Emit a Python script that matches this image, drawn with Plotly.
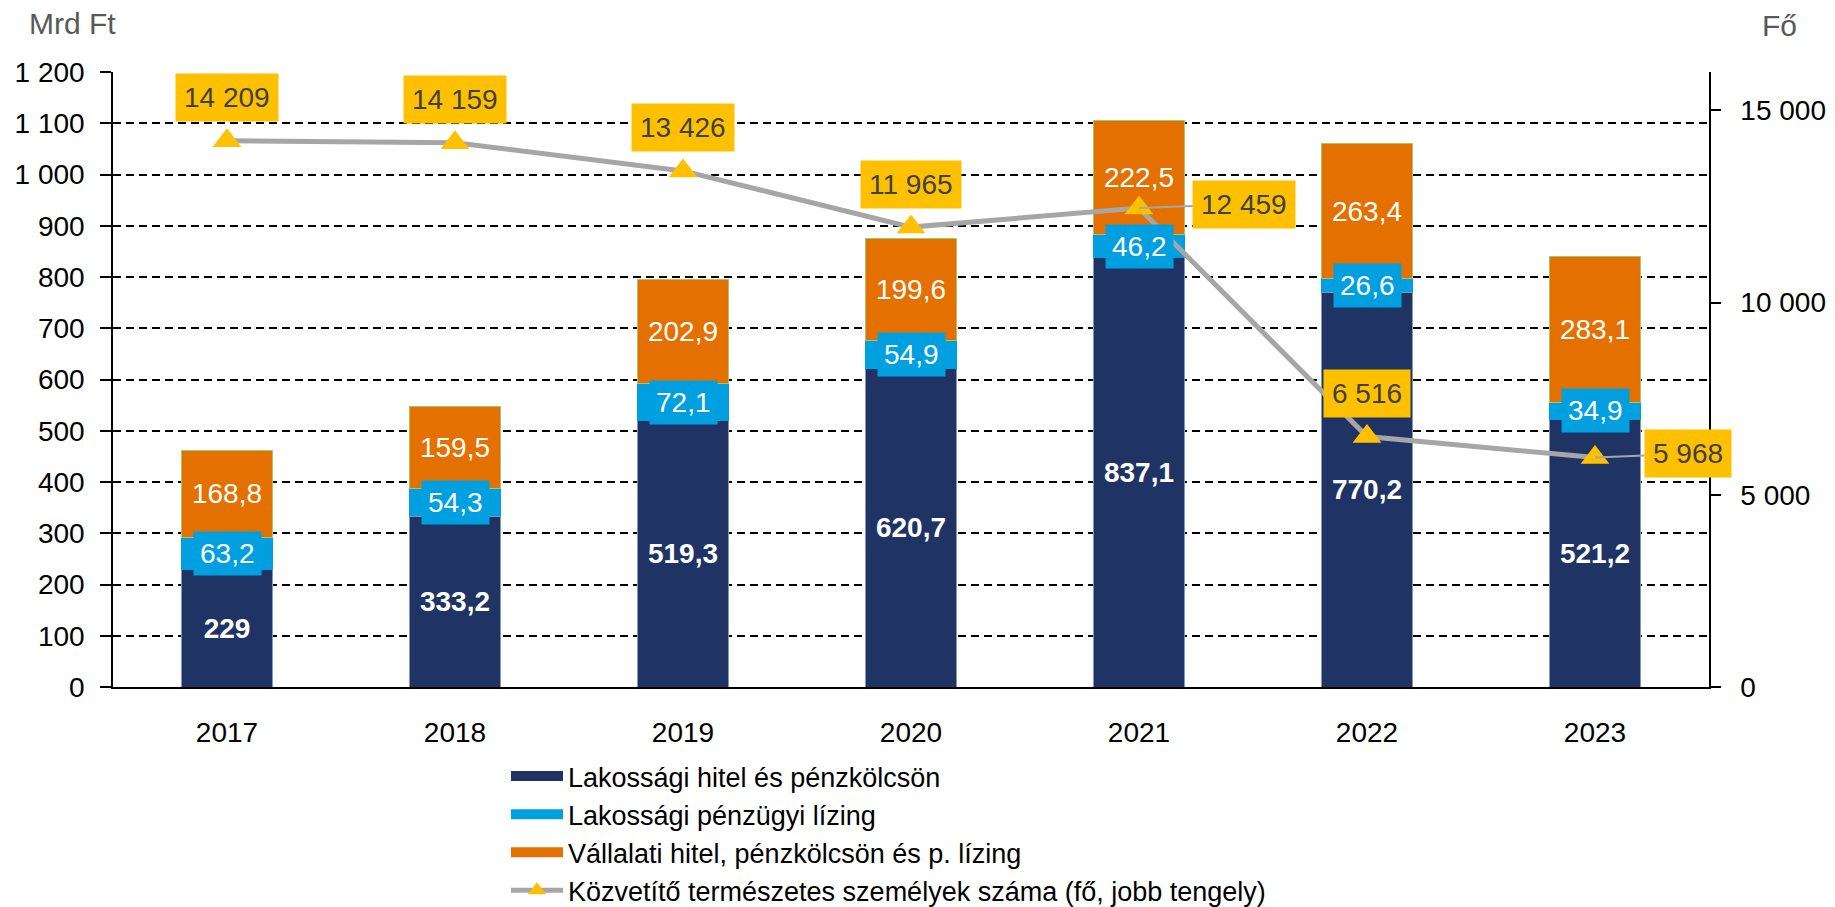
import plotly.graph_objects as go
from plotly.subplots import make_subplots

# data
years = ["2017", "2018", "2019", "2020", "2021", "2022", "2023"]
lak_hitel = [229, 333.2, 519.3, 620.7, 837.1, 770.2, 521.2]
lak_lizing = [63.2, 54.3, 72.1, 54.9, 46.2, 26.6, 34.9]
vall_hitel = [168.8, 159.5, 202.9, 199.6, 222.5, 263.4, 283.1]
kozvetitok = [14209, 14159, 13426, 11965, 12459, 6516, 5968]

left_ticks = list(range(0, 1300, 100))
right_ticks = [0, 5000, 10000, 15000]

names = [
    "Lakossági hitel és pénzkölcsön",
    "Lakossági pénzügyi lízing",
    "Vállalati hitel, pénzkölcsön és p. lízing",
    "Közvetítő természetes személyek száma (fő, jobb tengely)",
]

# the page body has an 8px margin, so the figure is 8px smaller than the window
OFF = 8
W, H = 1835 - OFF, 907 - OFF
ML, MR, MT, MB = 113 - OFF, 126, 72 - OFF, 220

FONT = "Liberation Sans, Arial, sans-serif"
NAVY = "#1F3464"
BLUE = "#009FE0"
ORANGE = "#E47000"
GOLD = "#FFC000"
GREY = "#A6A6A6"


def hu_dec(v):
    return f"{v:g}".replace(".", ",")


def hu_thousands(v):
    return f"{v:,}".replace(",", " ")


# screen pixel -> paper coordinates
def paper_x(px):
    return (px - OFF - ML) / (W - ML - MR)


def paper_y(py):
    return (H - MB - (py - OFF)) / (H - MT - MB)


fig = make_subplots(specs=[[{"secondary_y": True}]])

fig.add_trace(go.Bar(
    x=years, y=lak_hitel, name=names[0], showlegend=False,
    marker=dict(color=NAVY, line=dict(color="#8497B0", width=1)),
    text=[hu_dec(v) for v in lak_hitel], textposition="inside",
    insidetextanchor="middle", textangle=0,
    textfont=dict(color="white", size=28, family=FONT, weight="bold"),
), secondary_y=False)

fig.add_trace(go.Bar(
    x=years, y=lak_lizing, name=names[1], showlegend=False,
    marker=dict(color=BLUE, line=dict(width=0)),
), secondary_y=False)

fig.add_trace(go.Bar(
    x=years, y=vall_hitel, name=names[2], showlegend=False,
    marker=dict(color=ORANGE, line=dict(color="#9BCB6B", width=1)),
    text=[hu_dec(v) for v in vall_hitel], textposition="inside",
    insidetextanchor="middle", textangle=0,
    textfont=dict(color="white", size=28, family=FONT),
), secondary_y=False)

fig.add_trace(go.Scatter(
    x=years, y=kozvetitok, mode="lines+markers", name=names[3],
    showlegend=False,
    line=dict(color=GREY, width=5),
    marker=dict(symbol="triangle-up", size=25, color=GOLD),
), secondary_y=True)

# legend-only entries so the swatches are wide bars like in the original
for nm, col in zip(names[:3], [NAVY, BLUE, ORANGE]):
    fig.add_trace(go.Scatter(
        x=[None], y=[None], mode="lines", name=nm,
        line=dict(color=col, width=18),
    ))
fig.add_trace(go.Scatter(
    x=[None], y=[None], mode="lines+markers", name=names[3],
    line=dict(color=GREY, width=5),
    marker=dict(symbol="triangle-up", size=18, color=GOLD),
))

annotations = []

# blue segment labels with a filled box (category axis -> use index)
for i, (a, b) in enumerate(zip(lak_hitel, lak_lizing)):
    annotations.append(dict(
        x=i, y=a + b / 2, xref="x", yref="y", text=hu_dec(b),
        showarrow=False, bgcolor=BLUE, borderpad=6,
        font=dict(color="white", size=28, family=FONT),
    ))

# line labels: above the marker, or to the right with a leader line
label_side = ["up", "up", "up", "up", "right", "up", "right"]
label_dx = [0, 0, 0, 0, 105, 0, 93]
for i, (v, side, dx) in enumerate(zip(kozvetitok, label_side, label_dx)):
    ann = dict(
        x=i, y=v, xref="x", yref="y2", text=hu_thousands(v),
        bgcolor=GOLD, borderpad=8,
        font=dict(color="#404040", size=28, family=FONT),
    )
    if side == "up":
        ann.update(showarrow=False, yshift=43)
    else:
        ann.update(showarrow=True, arrowhead=0, arrowwidth=2,
                   arrowcolor=GREY, ax=dx, ay=-4, standoff=0)
    annotations.append(ann)

annotations.append(dict(
    x=paper_x(27), y=paper_y(23), xref="paper", yref="paper",
    text="Mrd Ft", xanchor="left", yanchor="middle", showarrow=False,
    font=dict(color="#595959", size=30, family=FONT),
))
annotations.append(dict(
    x=paper_x(1780), y=paper_y(25), xref="paper", yref="paper",
    text="Fő", xanchor="center", yanchor="middle", showarrow=False,
    font=dict(color="#595959", size=30, family=FONT),
))

fig.update_layout(
    width=W, height=H,
    margin=dict(l=ML, r=MR, t=MT, b=MB, autoexpand=False),
    barmode="stack", bargap=0.6,
    paper_bgcolor="white", plot_bgcolor="white",
    font=dict(family=FONT, size=28, color="black"),
    showlegend=True,
    legend=dict(
        xref="container", yref="container",
        x=(506 - OFF) / W, y=1 - (752 - OFF) / H,
        xanchor="left", yanchor="top",
        traceorder="normal", itemwidth=52,
        font=dict(size=27, family=FONT, color="black"),
        bgcolor="rgba(0,0,0,0)",
    ),
    annotations=annotations,
)

fig.update_xaxes(
    type="category", range=[-0.5, 6.5], domain=[0, 1], automargin=False,
    showline=True, linecolor="black", linewidth=1.5,
    ticks="", ticklabelstandoff=20, showgrid=False,
    tickfont=dict(size=28, family=FONT, color="black"),
)

fig.update_yaxes(
    range=[0, 1200], tickvals=left_ticks, automargin=False,
    ticktext=[hu_thousands(v) for v in left_ticks],
    showline=True, linecolor="black", linewidth=1.5,
    ticks="outside", ticklen=11, tickcolor="black", tickwidth=1.5,
    ticklabelstandoff=10,
    showgrid=True, gridcolor="black", gridwidth=1.5, griddash="8px,5px",
    zeroline=False,
    tickfont=dict(size=28, family=FONT, color="black"),
    secondary_y=False,
)

fig.update_yaxes(
    range=[0, 16000], tickvals=right_ticks, automargin=False,
    ticktext=[hu_thousands(v) for v in right_ticks],
    showline=True, linecolor="black", linewidth=1.5,
    ticks="outside", ticklen=10, tickcolor="black", tickwidth=1.5,
    ticklabelstandoff=14, showgrid=False, zeroline=False,
    tickfont=dict(size=28, family=FONT, color="black"),
    secondary_y=True,
)

fig.write_html("out.html")
